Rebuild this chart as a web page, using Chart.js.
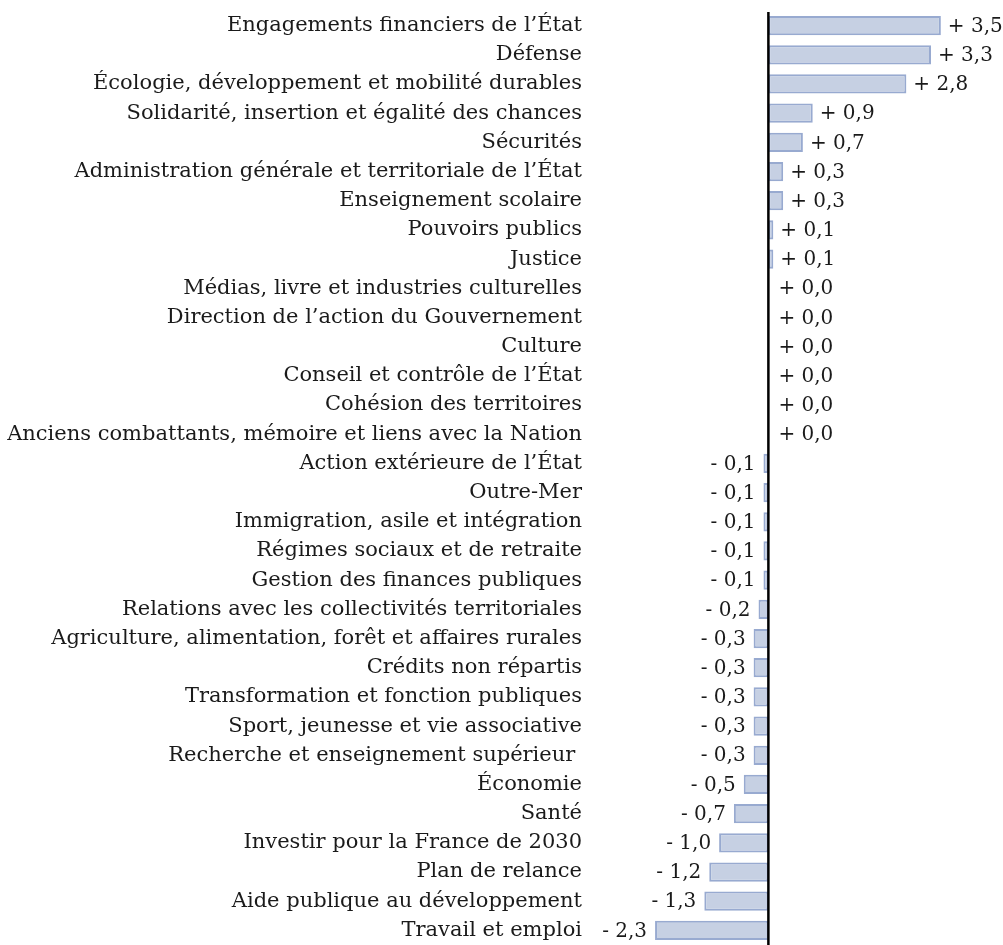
<!DOCTYPE html>
<html>
<head>
<meta charset="utf-8">
<script src="https://cdn.jsdelivr.net/npm/chart.js@4/dist/chart.umd.min.js"></script>
<style>
  html, body { margin: 0; padding: 0; background: #ffffff; }
  #wrap { width: 1003px; height: 945px; position: relative; }
</style>
</head>
<body>
<div id="wrap"><canvas id="c"></canvas></div>
<script>
const categories = [
  "Engagements financiers de l\u2019\u00C9tat",
  "D\u00E9fense",
  "\u00C9cologie, d\u00E9veloppement et mobilit\u00E9 durables",
  "Solidarit\u00E9, insertion et \u00E9galit\u00E9 des chances",
  "S\u00E9curit\u00E9s",
  "Administration g\u00E9n\u00E9rale et territoriale de l\u2019\u00C9tat",
  "Enseignement scolaire",
  "Pouvoirs publics",
  "Justice",
  "M\u00E9dias, livre et industries culturelles",
  "Direction de l\u2019action du Gouvernement",
  "Culture",
  "Conseil et contr\u00F4le de l\u2019\u00C9tat",
  "Coh\u00E9sion des territoires",
  "Anciens combattants, m\u00E9moire et liens avec la Nation",
  "Action ext\u00E9rieure de l\u2019\u00C9tat",
  "Outre-Mer",
  "Immigration, asile et int\u00E9gration",
  "R\u00E9gimes sociaux et de retraite",
  "Gestion des finances publiques",
  "Relations avec les collectivit\u00E9s territoriales",
  "Agriculture, alimentation, for\u00EAt et affaires rurales",
  "Cr\u00E9dits non r\u00E9partis",
  "Transformation et fonction publiques",
  "Sport, jeunesse et vie associative",
  "Recherche et enseignement sup\u00E9rieur ",
  "\u00C9conomie",
  "Sant\u00E9",
  "Investir pour la France de 2030",
  "Plan de relance",
  "Aide publique au d\u00E9veloppement",
  "Travail et emploi"
];
const values = [
  3.5, 3.3, 2.8, 0.9, 0.7, 0.3, 0.3, 0.1, 0.1,
  0.0, 0.0, 0.0, 0.0, 0.0, 0.0,
  -0.1, -0.1, -0.1, -0.1, -0.1, -0.2,
  -0.3, -0.3, -0.3, -0.3, -0.3,
  -0.5, -0.7, -1.0, -1.2, -1.3, -2.3
];

function fmt(v) {
  const s = v >= 0 ? "+ " : "- ";
  return s + Math.abs(v).toFixed(1).replace(".", ",");
}

const FONT = "'DejaVu Serif', serif";

const valueLabels = {
  id: 'valueLabels',
  afterDatasetsDraw(chart) {
    const ctx = chart.ctx;
    const meta = chart.getDatasetMeta(0);
    const xs = chart.scales.x;
    ctx.save();
    ctx.font = "20px " + FONT;
    ctx.fillStyle = "#1a1a1a";
    ctx.textBaseline = "middle";
    meta.data.forEach((bar, i) => {
      const v = values[i];
      const zero = xs.getPixelForValue(0);
      if (v >= 0) {
        ctx.textAlign = "left";
        const end = Math.max(bar.x, zero + 3);
        ctx.fillText(fmt(v), end + 7, bar.y + 1);
      } else {
        ctx.textAlign = "right";
        ctx.fillText(fmt(v), bar.x - 8, bar.y + 1);
      }
    });
    ctx.restore();
  }
};

const zeroLine = {
  id: 'zeroLine',
  afterDatasetsDraw(chart) {
    const ctx = chart.ctx;
    const x = chart.scales.x.getPixelForValue(0);
    ctx.save();
    ctx.strokeStyle = "#000000";
    ctx.lineWidth = 2.5;
    ctx.beginPath();
    ctx.moveTo(x, 12);
    ctx.lineTo(x, chart.height);
    ctx.stroke();
    ctx.restore();
  }
};

new Chart(document.getElementById('c'), {
  type: 'bar',
  data: {
    labels: categories,
    datasets: [{
      data: values,
      backgroundColor: '#c6d0e3',
      borderColor: '#98aad0',
      borderWidth: 2,
      borderSkipped: false,
      barPercentage: 0.66,
      categoryPercentage: 1.0
    }]
  },
  options: {
    indexAxis: 'y',
    responsive: true,
    maintainAspectRatio: false,
    animation: false,
    layout: { padding: { top: 11, bottom: 0, left: 0, right: 3 } },
    plugins: {
      legend: { display: false },
      tooltip: { enabled: false }
    },
    scales: {
      x: {
        display: false,
        min: -3.62,
        max: 4.70,
        grid: { display: false }
      },
      y: {
        grid: { display: false, drawTicks: false },
        border: { display: false },
        ticks: {
          font: { family: FONT, size: 21 },
          color: '#1a1a1a',
          padding: 8,
          autoSkip: false
        },
        afterFit(scale) {
          scale.width = 590;
          scale.paddingTop = 0;
          scale.paddingBottom = 0;
        }
      }
    }
  },
  plugins: [valueLabels, zeroLine]
});
</script>
</body>
</html>
